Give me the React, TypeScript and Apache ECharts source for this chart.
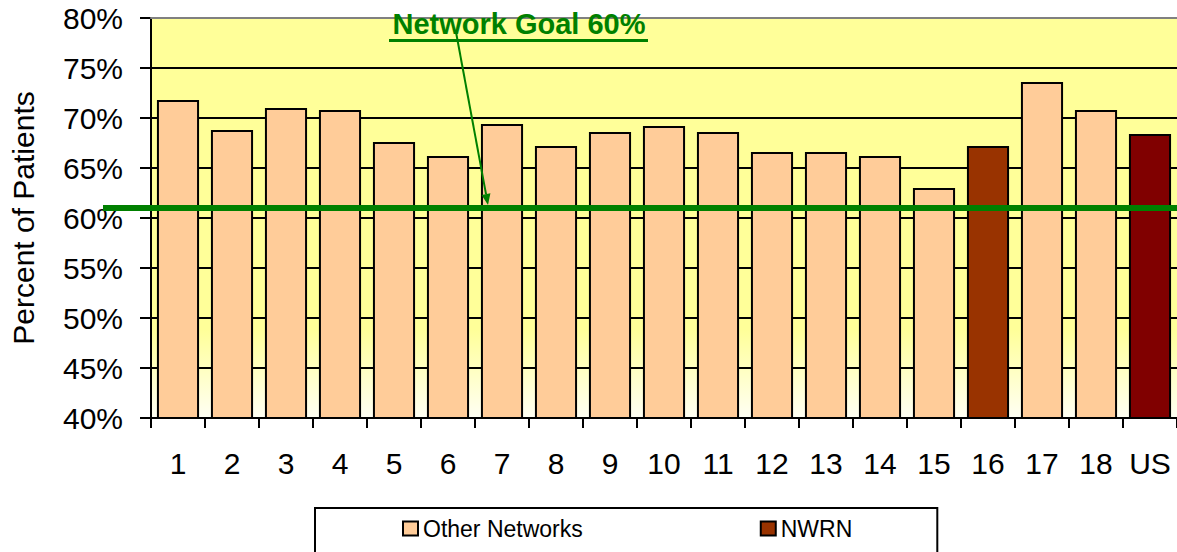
import React, { useEffect, useRef } from "react";
import * as echarts from "echarts";

const categories = ["1", "2", "3", "4", "5", "6", "7", "8", "9", "10", "11", "12", "13", "14", "15", "16", "17", "18", "US"];
const otherNetworks = [71.8, 68.8, 71.0, 70.8, 67.6, 66.2, 69.4, 67.2, 68.6, 69.2, 68.6, 66.6, 66.6, 66.2, 63.0, null, 73.6, 70.8, null];
const nwrnValues = [null, null, null, null, null, null, null, null, null, null, null, null, null, null, null, 67.2, null, null, 68.4];
const usIndex = 18;
const goalValue = 61;
const goalLabel = "Network Goal 60%";
const yMin = 40;
const yMax = 80;
const yStep = 5;

const FONT = "'Liberation Sans', Arial, sans-serif";
const GREEN = "#008000";

export default function App() {
  const ref = useRef<HTMLDivElement>(null);

  useEffect(() => {
    if (!ref.current) return;
    const chart = echarts.init(ref.current, null, { renderer: "svg" });

    const nwrnData = nwrnValues.map((v, i) =>
      v == null ? null : i === usIndex ? { value: v, itemStyle: { color: "#800000" } } : v
    );

    chart.setOption({
      animation: false,
      grid: {
        left: 151,
        right: 0,
        top: 18,
        bottom: 134,
        show: true,
        borderWidth: 0,
        backgroundColor: {
          type: "linear",
          x: 0, y: 0, x2: 0, y2: 1,
          colorStops: [
            { offset: 0, color: "#FFFF99" },
            { offset: 0.78, color: "#FFFF99" },
            { offset: 1, color: "#FFFFF4" },
          ],
        },
      },
      legend: {
        data: ["Other Networks", "NWRN"],
        left: 315,
        top: 508,
        orient: "horizontal",
        itemWidth: 15,
        itemHeight: 14,
        itemGap: 177,
        padding: [9, 85, 40, 87],
        borderColor: "#000",
        borderWidth: 2,
        icon: "rect",
        itemStyle: { borderColor: "#000", borderWidth: 2 },
        textStyle: { fontSize: 23, color: "#000", fontFamily: FONT },
      },
      xAxis: [
        {
          type: "category",
          data: categories,
          position: "bottom",
          axisLine: { lineStyle: { color: "#000", width: 2 } },
          axisTick: { show: true, length: 10, lineStyle: { color: "#000", width: 2 } },
          axisLabel: { fontSize: 30, color: "#000", fontFamily: FONT, margin: 30, interval: 0 },
        },
        {
          type: "category",
          data: categories,
          position: "top",
          z: 10,
          axisLine: { lineStyle: { color: "#808080", width: 2 } },
          axisTick: { show: false },
          axisLabel: { show: false },
        },
      ],
      yAxis: {
        type: "value",
        min: yMin,
        max: yMax,
        interval: yStep,
        name: "Percent of Patients",
        nameLocation: "middle",
        nameRotate: 90,
        nameGap: 113,
        nameTextStyle: { fontSize: 30, color: "#000", fontFamily: FONT },
        axisLine: { show: true, lineStyle: { color: "#000", width: 2 } },
        axisTick: { show: true, length: 11, lineStyle: { color: "#000", width: 2 } },
        axisLabel: { fontSize: 30, color: "#000", fontFamily: FONT, margin: 28, formatter: "{value}%" },
        splitLine: { show: true, lineStyle: { color: "#000", width: 2 } },
      },
      series: [
        {
          name: "Other Networks",
          type: "bar",
          data: otherNetworks,
          barGap: "-100%",
          barCategoryGap: "22%",
          itemStyle: { color: "#FFCC99", borderColor: "#000", borderWidth: 2 },
        },
        {
          name: "NWRN",
          type: "bar",
          data: nwrnData,
          barGap: "-100%",
          barCategoryGap: "22%",
          itemStyle: { color: "#993300", borderColor: "#000", borderWidth: 2 },
        },
      ],
    });

    const gy = chart.convertToPixel({ yAxisIndex: 0 }, goalValue) as number;
    const sx = 456, sy = 32;
    const tx = 488, ty = gy - 3;
    const dx = tx - sx, dy = ty - sy;
    const len = Math.sqrt(dx * dx + dy * dy);
    const ux = dx / len, uy = dy / len;
    const bx = tx - ux * 11, by = ty - uy * 11;
    const px = -uy * 4.5, py = ux * 4.5;

    chart.setOption({
      graphic: [
        {
          type: "line",
          z: 100,
          shape: { x1: 103, y1: gy, x2: 1177, y2: gy },
          style: { stroke: GREEN, lineWidth: 6 },
        },
        {
          type: "text",
          z: 100,
          x: 519,
          y: 24,
          style: {
            text: goalLabel,
            fill: GREEN,
            font: `bold 29px ${FONT}`,
            align: "center",
            verticalAlign: "middle",
          },
        },
        {
          type: "line",
          z: 100,
          shape: { x1: 389, y1: 40.5, x2: 648, y2: 40.5 },
          style: { stroke: GREEN, lineWidth: 3 },
        },
        {
          type: "line",
          z: 100,
          shape: { x1: sx, y1: sy, x2: bx, y2: by },
          style: { stroke: GREEN, lineWidth: 2 },
        },
        {
          type: "polygon",
          z: 100,
          shape: { points: [[tx, ty], [bx + px, by + py], [bx - px, by - py]] },
          style: { fill: GREEN },
        },
      ],
    });

    return () => chart.dispose();
  }, []);

  return (
    <div
      ref={ref}
      style={{ position: "fixed", left: 0, top: 0, width: 1177, height: 552, background: "#fff" }}
    />
  );
}
